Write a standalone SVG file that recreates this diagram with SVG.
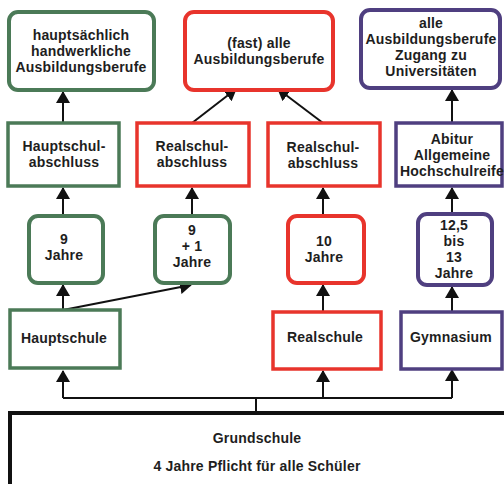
<svg xmlns="http://www.w3.org/2000/svg" width="504" height="484" viewBox="0 0 504 484">
<defs>
<marker id="ah" viewBox="0 0 12 14" refX="11" refY="7" markerWidth="12" markerHeight="14" markerUnits="userSpaceOnUse" orient="auto">
<path d="M0,0 L12,7 L0,14 Z" fill="#111"/>
</marker>
<style>
.t{font-family:"Liberation Sans",Arial,sans-serif;font-weight:bold;font-size:14px;letter-spacing:0.2px;fill:#1e1e1e;text-anchor:middle}
.g{fill:#fff;stroke:#4b7a57;stroke-width:4}
.r{fill:#fff;stroke:#e8342c;stroke-width:4}
.p{fill:#fff;stroke:#4f3f80;stroke-width:4}
.gs{fill:#fff;stroke:#4b7a57;stroke-width:3.5}
.rs{fill:#fff;stroke:#e8342c;stroke-width:3.5}
.ps{fill:#fff;stroke:#4f3f80;stroke-width:3.5}
.c{fill:none;stroke:#111;stroke-width:2}
.ca{fill:none;stroke:#111;stroke-width:2;marker-end:url(#ah)}
</style>
</defs>
<rect width="504" height="484" fill="#fff"/>
<g id="connectors">
<path class="c" d="M63,398 H452 M256,398 V412"/>
<path class="ca" d="M63,398 V371"/>
<path class="ca" d="M323,398 V371"/>
<path class="ca" d="M452,398 V370"/>
<path class="ca" d="M63,310 V285"/>
<path class="ca" d="M63,310 L191,285"/>
<path class="ca" d="M323,312 V285"/>
<path class="ca" d="M452,312 V287"/>
<path class="ca" d="M63,216 V188"/>
<path class="ca" d="M192,216 V188"/>
<path class="ca" d="M323,216 V188"/>
<path class="ca" d="M452,213 V188"/>
<path class="ca" d="M63,123 V92"/>
<path class="ca" d="M192,123 L236,89"/>
<path class="ca" d="M323,123 L278,89"/>
<path class="ca" d="M452,122 V90"/>
</g>
<g id="n_handwerk">
<rect class="g" x="9" y="12" width="145" height="78" rx="9"/>
<text class="t"><tspan x="81" y="40">hauptsächlich</tspan><tspan x="81" y="56">handwerkliche</tspan><tspan x="81" y="72">Ausbildungsberufe</tspan></text>
</g>
<g id="n_fastalle">
<rect class="r" x="185" y="12" width="148" height="78" rx="9"/>
<text class="t"><tspan x="259" y="48">(fast) alle</tspan><tspan x="259" y="64">Ausbildungsberufe</tspan></text>
</g>
<g id="n_alle">
<rect class="p" x="361" y="10" width="139" height="78" rx="9"/>
<text class="t"><tspan x="431" y="28">alle</tspan><tspan x="431" y="44">Ausbildungsberufe</tspan><tspan x="431" y="60">Zugang zu</tspan><tspan x="431" y="76">Universitäten</tspan></text>
</g>
<g id="n_hsabschluss">
<rect class="gs" x="8" y="123" width="111" height="63"/>
<text class="t"><tspan x="64" y="151">Hauptschul-</tspan><tspan x="64" y="167">abschluss</tspan></text>
</g>
<g id="n_rsabschluss1">
<rect class="rs" x="137" y="123" width="112" height="63"/>
<text class="t"><tspan x="192" y="151">Realschul-</tspan><tspan x="192" y="167">abschluss</tspan></text>
</g>
<g id="n_rsabschluss2">
<rect class="rs" x="268" y="123" width="112" height="63"/>
<text class="t"><tspan x="323" y="151.5">Realschul-</tspan><tspan x="323" y="167.5">abschluss</tspan></text>
</g>
<g id="n_abitur">
<rect class="ps" x="396" y="123" width="106" height="63"/>
<text class="t"><tspan x="452" y="144">Abitur</tspan><tspan x="452" y="160">Allgemeine</tspan><tspan x="452" y="176">Hochschulreife</tspan></text>
</g>
<g id="n_9">
<rect class="g" x="29" y="216" width="74" height="67" rx="9"/>
<text class="t"><tspan x="64" y="244">9</tspan><tspan x="64" y="260">Jahre</tspan></text>
</g>
<g id="n_9p1">
<rect class="g" x="155" y="216" width="75" height="67" rx="9"/>
<text class="t"><tspan x="192" y="235">9</tspan><tspan x="192" y="251">+ 1</tspan><tspan x="192" y="267">Jahre</tspan></text>
</g>
<g id="n_10">
<rect class="r" x="288" y="216" width="76" height="67" rx="9"/>
<text class="t"><tspan x="324" y="246">10</tspan><tspan x="324" y="262">Jahre</tspan></text>
</g>
<g id="n_125">
<rect class="p" x="418" y="214" width="74" height="71" rx="9"/>
<text class="t"><tspan x="454" y="230">12,5</tspan><tspan x="454" y="246">bis</tspan><tspan x="454" y="262">13</tspan><tspan x="454" y="278">Jahre</tspan></text>
</g>
<g id="n_hauptschule">
<rect class="gs" x="10" y="310" width="110" height="58"/>
<text class="t" x="64" y="343">Hauptschule</text>
</g>
<g id="n_realschule">
<rect class="rs" x="273" y="312" width="108" height="57"/>
<text class="t" x="325" y="342">Realschule</text>
</g>
<g id="n_gymnasium">
<rect class="ps" x="401" y="312" width="101" height="57"/>
<text class="t" x="451" y="342">Gymnasium</text>
</g>
<g id="n_grundschule">
<rect x="10" y="413" width="500" height="80" fill="#fff" stroke="#111" stroke-width="4"/>
<text class="t"><tspan x="257" y="443">Grundschule</tspan><tspan x="257" y="471">4 Jahre Pflicht für alle Schüler</tspan></text>
</g>
</svg>
